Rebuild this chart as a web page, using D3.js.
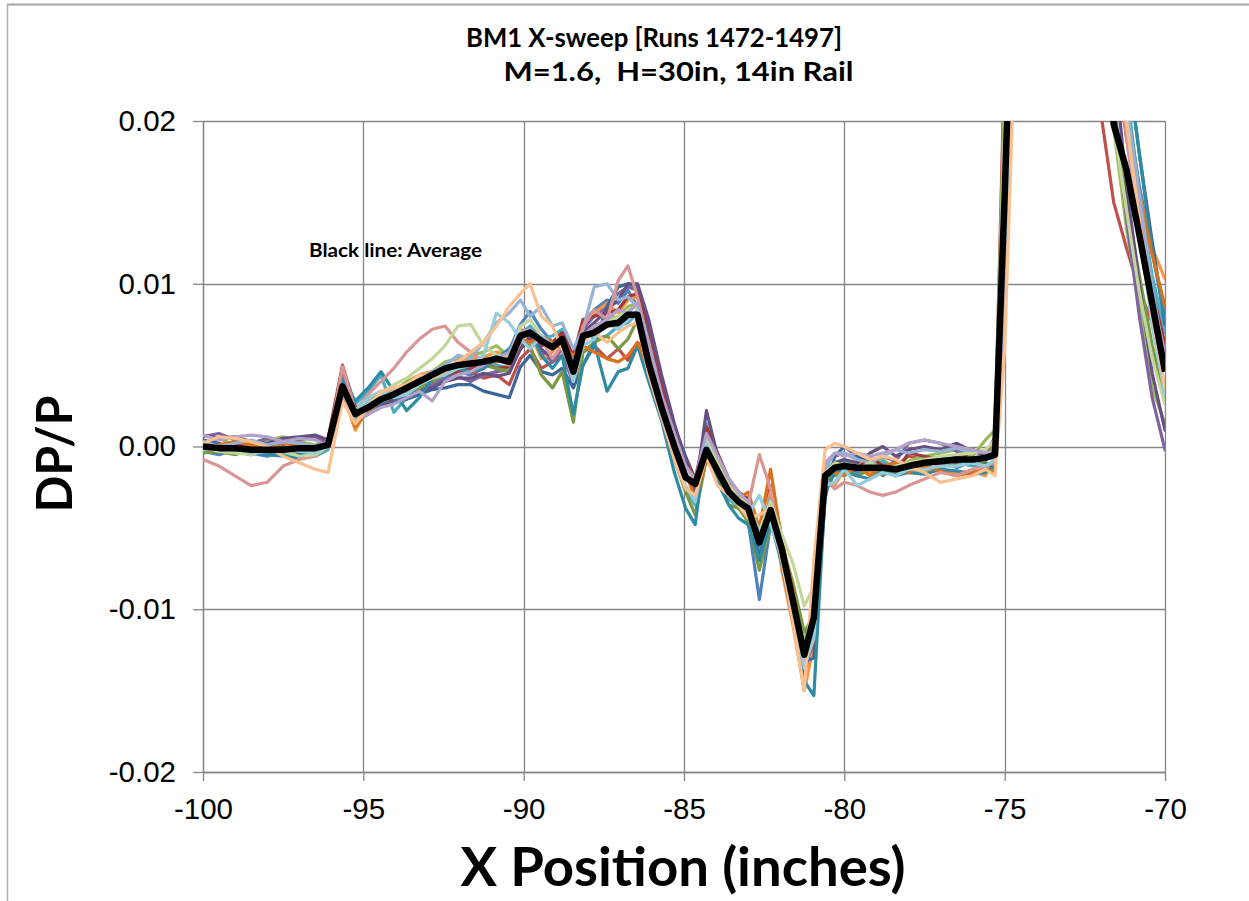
<!DOCTYPE html>
<html><head><meta charset="utf-8">
<script src="https://cdn.jsdelivr.net/npm/d3@7"></script>
<style>body{margin:0;background:#fff;} svg{display:block;}</style>
</head><body>
<svg id="chart" width="1249" height="901"></svg>
<script>
// ---------------- DATA (DP/P values stored in units of 0.001) ----------------
const xPositions = [-100,-99.5,-99,-98.5,-98,-97.5,-97,-96.5,-96.1,
 -95.65,-95.25,-94.85,-94.45,-94.05,
 -93.65,-93.25,-92.85,-92.45,-92.05,
 -91.65,-91.25,-90.85,-90.45,-90.1,
 -89.8,-89.45,-89.1,-88.8,-88.45,
 -88.15,-87.8,-87.4,-87.05,-86.75,
 -86.45,-86.1,-85.7,-85.3,-84.95,
 -84.65,-84.3,-83.95,-83.6,-83.3,
 -83.0,-82.65,-82.3,-81.95,-81.6,
 -81.25,-80.95,-80.6,-80.3,-80.0,
 -79.6,-79.2,-78.8,-78.4,-78.0,
 -77.5,-77.0,-76.5,-76.0,-75.6,
 -75.3,-75.0,-74.6,-74.0,-73.0,
 -72.0,-71.6,-71.2,-70.8,-70.4,
 -70.0];

const averageMilli = [0.0,-0.1,-0.1,-0.2,-0.2,-0.2,-0.1,-0.1,0.1,
 3.7,2.0,2.4,2.9,3.2, 3.6,4.0,4.4,4.8,5.0, 5.1,5.2,5.4,5.2,6.8,
 7.0,6.5,6.1,6.6,4.6, 6.8,7.0,7.5,7.6,8.1, 8.1,5.1,2.4,0.0,-1.9,
 -2.3,-0.2,-1.5,-2.8,-3.4, -3.8,-5.9,-3.9,-6.3,-9.5, -12.8,-10.5,-1.8,-1.3,-1.2,
 -1.3,-1.3,-1.3,-1.4,-1.2, -1.0,-0.9,-0.8,-0.8,-0.7, -0.5,15.4,40,50,55,
 35,19.8,17.0,13.0,8.8, 4.6];

const run1472 = [-0.3,-0.5,-0.2,-0.4,-0.6,-0.3,-0.5,-0.4,0.3,
 4.2,1.8,2.6,3.0,3.3, 3.2,3.6,4.0,4.2,4.6, 4.4,4.8,5.6,5.9,7.5,
 8.3,7.2,6.4,7.0,5.0, 7.6,8.4,9.0,8.8,9.6, 8.6,5.8,2.8,0.4,-1.4,
 -2.0,0.4,-1.2,-2.4,-3.6, -4.6,-9.4,-4.8,-6.8,-10.2, -13.6,-12.4,-2.5,-1.5,-1.0,
 -1.6,-1.2,-1.8,-1.1,-1.5, -1.2,-0.6,-1.3,-0.9,-1.0, -1.2,12,38,50,56,
 42,26,21,16,12, 8.2];
const run1473 = [0.3,0.0,0.2,-0.1,-0.3,0.0,-0.2,-0.3,0.5,
 5.0,2.4,2.2,3.1,2.9, 3.4,3.9,4.1,4.5,4.7, 4.6,4.2,4.4,3.8,5.4,
 6.0,4.8,5.2,5.6,4.0, 5.8,6.2,5.4,6.0,5.3, 6.4,5.6,2.6,0.6,-1.0,
 -2.0,0.8,-1.2,-2.6,-3.0, -3.5,-5.2,-2.4,-5.5,-9.6, -12.4,-11.0,-1.8,-1.0,-1.5,
 -0.9,-1.4,-1.0,-1.2,-0.6, -0.8,-1.2,-0.6,-0.3,-0.5, 0.6,24,42,48,40,
 20.5,15.0,12.2,9.6,7.6, 6.0];
const run1474 = [0.2,0.5,0.1,-0.2,0.4,0.6,0.3,0.1,0.0,
 3.6,2.2,2.8,3.2,3.4, 4.0,4.4,4.6,5.2,5.4, 5.6,5.8,6.2,5.5,7.0,
 7.2,6.8,5.9,6.8,5.0, 7.0,7.4,7.8,8.0,8.6, 8.8,6.0,3.0,0.4,-1.6,
 -2.4,-0.4,-1.8,-3.0,-3.8, -4.2,-6.6,-4.4,-6.0,-9.0, -12.0,-9.8,-1.6,-1.2,-0.8,
 -1.4,-1.2,-0.8,-1.4,-0.9, -0.6,-0.4,-0.2,-0.6,0.4, 1.0,22,44,52,46,
 30,19.6,13.4,8.6,3.6, 1.4];
const run1475 = [0.6,0.8,0.4,0.2,0.5,0.3,0.4,0.6,0.2,
 3.0,1.6,2.0,2.6,2.8, 3.0,3.5,3.8,4.1,4.3, 4.0,4.4,4.6,4.7,6.2,
 6.6,5.8,5.2,6.0,3.8, 7.2,8.0,8.6,9.4,9.8, 9.6,7.0,3.6,0.8,-1.0,
 -3.0,0.6,-1.0,-2.2,-3.4, -3.6,-6.2,-3.6,-6.6,-9.6, -13.8,-12.6,-1.0,-0.6,-0.4,
 -0.8,-1.0,-0.6,-0.9,0.2, 0.4,0.2,-0.3,-0.2,-0.6, -0.4,14,36,50,56,
 38,21.5,14.0,8.0,3.0, -0.2];
const run1476 = [-0.4,-0.2,0.0,-0.3,-0.1,-0.5,-0.4,-0.6,-0.2,
 4.8,2.6,3.4,4.4,2.1, 3.0,3.6,4.4,4.8,4.5, 4.9,5.6,5.0,4.8,6.9,
 7.4,6.6,6.8,7.2,5.4, 7.2,6.6,6.8,7.4,7.6, 8.2,5.4,2.4,-0.4,-2.6,
 -3.6,1.4,-1.6,-3.2,-3.8, -4.2,-6.6,-4.0,-6.8,-10.6, -13.8,-11.8,-1.4,-1.0,-0.8,
 -1.2,-1.6,-0.9,-1.5,-1.6, -1.4,-1.3,-1.0,-1.2,-1.3, -1.0,16,40,52,58,
 45,28,22,15.5,10.5, 7.0];
const run1477 = [-0.1,0.1,-0.2,0.0,-0.3,-0.2,0.1,-0.2,0.2,
 3.4,1.0,2.4,3.1,3.6, 3.8,4.4,4.6,4.8,5.2, 5.4,5.5,5.8,5.6,7.2,
 7.0,5.4,5.8,6.6,4.0, 7.6,8.2,8.8,8.2,9.0, 9.2,5.8,2.2,-0.6,-2.6,
 -3.0,-0.6,-1.8,-2.4,-3.2, -4.8,-5.2,-2.8,-7.6,-11.0, -15.0,-12.2,-1.6,-2.4,-1.4,
 -0.8,-1.6,-1.4,-1.8,-1.4, -1.6,-1.4,-1.6,-1.5,-1.8, -0.6,14,38,50,58,
 46,24,19,15.5,12.2, 10.3];
const run1478 = [0.4,0.2,-0.3,-0.5,-0.2,0.0,-0.4,-0.5,0.0,
 3.8,2.0,2.2,2.6,2.8, 2.9,3.2,3.5,3.6,3.8, 3.8,3.4,3.2,3.0,4.9,
 5.6,4.6,4.4,4.8,3.6, 5.0,6.2,8.6,9.8,10.0, 9.8,7.0,4.0,1.2,-0.6,
 -2.0,0.0,-1.4,-2.6,-3.4, -3.6,-6.8,-4.4,-6.0,-9.8, -13.2,-13.0,-3.2,-0.6,0.0,
 -0.6,-1.0,-1.4,-0.9,-1.2, -1.1,-0.8,-0.7,-0.9,-1.0, -1.4,10,34,48,56,
 44,30,24,18,12.6, 7.5];
const run1479 = [0.1,-0.3,0.2,0.0,-0.4,-0.2,-0.3,0.0,0.4,
 4.8,2.4,2.6,3.0,3.2, 3.4,3.8,4.2,4.4,4.6, 4.8,5.2,4.8,4.9,6.0,
 6.6,6.2,6.4,7.0,5.6, 7.8,8.0,8.2,8.4,9.2, 9.4,7.4,3.8,1.0,-0.8,
 -2.0,1.2,-0.4,-2.0,-2.8, -3.2,-5.4,-3.6,-6.0,-9.4, -13.6,-12.0,-2.2,-1.0,-1.6,
 -1.4,-0.6,-1.2,-1.6,-0.4, -0.6,-0.8,-1.0,-0.2,-0.4, -0.8,18,40,50,54,
 40,26,19,14,9.6, 6.3];
const run1480 = [-0.4,-0.3,-0.5,-0.2,-0.3,-0.1,0.0,-0.3,0.0,
 3.6,1.8,2.2,2.8,3.0, 3.3,3.6,4.0,4.4,4.8, 5.2,5.0,4.8,4.6,6.4,
 6.2,4.4,3.6,4.6,1.5, 5.8,6.4,6.8,6.0,6.6, 7.8,5.4,2.2,-0.8,-2.8,
 -4.2,-0.8,-2.0,-3.6,-3.8, -4.6,-7.6,-4.8,-6.0,-8.4, -11.4,-10.4,-2.0,-1.8,-1.6,
 -1.8,-1.4,-1.7,-1.6,-1.2, -1.2,-0.9,-1.2,-1.0,-0.9, 0.2,20,42,52,50,
 32,20.5,15,10.5,6.2, 3.0];
const run1481 = [0.7,0.5,0.6,0.3,0.2,0.5,0.6,0.7,0.4,
 3.2,1.5,2.0,2.4,2.9, 3.1,3.4,3.6,4.0,4.2, 4.2,4.5,4.3,4.5,6.0,
 6.8,6.0,5.4,6.2,4.2, 7.0,7.6,8.4,9.0,10.0, 10.0,7.8,4.4,1.4,-0.8,
 -2.8,2.2,-0.6,-2.4,-3.0, -3.4,-5.6,-3.2,-6.2,-9.6, -13.4,-11.6,-1.6,-1.0,-0.8,
 -1.0,-0.4,0.0,-0.6,-0.2, 0.0,-0.2,0.2,-0.3,-0.5, -0.4,12,36,50,56,
 40,24,16,10,4.5, 1.0];
const run1482 = [0.0,-0.2,-0.4,-0.3,-0.5,-0.6,-0.7,-0.4,0.2,
 4.0,2.8,3.6,4.6,3.4, 2.2,3.0,4.2,4.5,4.8, 4.6,4.8,5.4,6.0,6.8,
 7.2,5.6,4.8,5.6,2.0, 5.0,6.4,3.4,4.6,4.8, 6.2,4.0,1.6,-1.6,-3.8,
 -4.8,0.6,-2.2,-3.6,-4.4, -4.8,-7.0,-4.6,-7.2,-10.8, -14.4,-15.3,-2.8,-1.6,-1.4,
 -1.8,-2.0,-1.4,-1.8,-1.6, -1.7,-1.4,-1.5,-1.7,-1.6, -1.2,11,36,50,58,
 46,31,24,18,12.0, 7.8];
const run1483 = [-0.2,0.1,0.3,0.1,-0.1,0.2,0.0,-0.1,0.3,
 3.8,1.2,2.2,2.8,3.4, 3.6,4.2,4.4,4.6,4.9, 5.0,5.4,5.2,5.6,6.6,
 6.4,6.8,6.4,6.0,5.6, 6.2,5.8,5.4,5.2,5.6, 6.4,4.8,2.4,0.2,-1.6,
 -3.2,-0.8,-1.4,-2.8,-3.2, -2.8,-5.0,-1.4,-5.8,-8.8, -13.0,-11.4,-1.4,-1.6,-1.8,
 -1.2,-1.8,-1.2,-1.0,-1.6, -1.2,-1.5,-1.8,-1.6,-1.4, -1.6,13,38,50,58,
 44,28,21,15.5,11.8, 8.6];
const run1484 = [0.3,0.0,0.2,0.4,0.1,0.3,0.2,0.0,0.3,
 3.4,2.2,2.8,3.0,3.4, 3.8,4.2,4.6,5.0,5.6, 5.4,6.4,7.6,8.2,9.0,
 8.0,8.6,7.4,7.6,6.0, 7.2,9.8,10.0,9.0,9.2, 8.6,5.8,2.8,0.2,-1.6,
 -2.2,0.2,-1.4,-2.6,-3.0, -3.4,-5.4,-3.2,-6.0,-9.2, -12.2,-10.8,-1.4,-0.4,-0.4,
 -0.8,-1.0,-0.6,-0.2,-0.4, -0.2,-0.3,-0.1,-0.4,-0.3, -0.5,14,38,50,56,
 42,27,21,15.5,9.8, 5.2];
const run1485 = [-0.8,-1.2,-1.8,-2.4,-2.2,-1.2,-0.8,-0.6,0.1,
 4.9,2.2,3.2,4.0,4.8, 5.8,6.6,7.2,7.4,6.4, 5.8,5.2,5.4,5.0,6.4,
 7.2,6.6,5.4,6.2,4.4, 7.4,8.4,7.8,10.2,11.1, 9.2,6.2,2.6,0.2,-1.4,
 -2.2,0.2,-1.2,-2.4,-2.8, -3.6,-0.5,-2.6,-6.4,-10.0, -13.2,-11.4,-2.0,-2.6,-2.2,
 -2.4,-2.8,-3.0,-2.8,-2.4, -2.0,-1.6,-1.8,-1.4,-1.2, -1.0,14,38,50,56,
 42,26,19,13,8.6, 4.8];
const run1486 = [0.0,-0.3,-0.4,-0.5,-0.2,-0.3,-0.6,-0.5,0.0,
 3.4,2.0,2.6,3.2,3.8, 4.2,4.8,5.4,6.2,7.4, 7.5,6.2,5.6,5.6,7.4,
 7.8,6.8,6.0,6.6,4.8, 6.8,7.2,7.6,8.0,8.4, 8.6,5.4,2.6,0.2,-1.4,
 -2.4,0.6,-1.0,-2.4,-3.2, -3.4,-5.2,-3.4,-5.4,-7.2, -9.8,-8.6,-1.6,-1.0,-1.2,
 -1.4,-1.0,-1.4,-1.2,-1.0, -0.8,-0.6,-0.5,-0.4,-0.2, 0.4,20,42,50,46,
 28,19.8,14.5,9.5,5.4, 2.6];
const run1487 = [0.7,0.4,0.6,0.7,0.6,0.3,0.5,0.4,0.0,
 3.2,1.6,2.0,2.4,2.6, 3.0,3.4,2.8,4.0,4.4, 4.6,5.0,5.4,5.8,7.0,
 7.2,6.4,6.0,6.6,5.0, 6.8,7.4,7.8,8.4,8.2, 8.8,6.4,3.2,0.8,-1.2,
 -2.0,0.8,-0.6,-2.0,-2.8, -3.4,-5.4,-3.8,-6.4,-9.8, -13.2,-11.2,-1.0,-0.4,-0.6,
 -0.4,-0.6,-0.4,-0.2,0.2, 0.4,0.2,0.0,-0.2,-0.4, -0.6,8,32,48,56,
 44,28,20,14.5,9.0, 5.8];
const run1488 = [-0.2,0.0,-0.1,-0.4,-0.3,-0.2,-0.3,-0.4,0.1,
 3.6,2.2,3.0,3.4,3.0, 3.2,3.8,4.2,4.4,4.8, 5.0,5.6,8.2,7.6,6.6,
 6.0,6.8,6.2,6.4,4.0, 6.2,6.6,7.6,7.2,7.8, 8.4,5.2,2.0,-0.6,-2.4,
 -3.4,0.2,-1.6,-3.0,-3.6, -4.2,-3.0,-4.8,-6.8,-10.4, -13.6,-11.8,-2.4,-2.2,-1.4,
 -2.4,-2.0,-1.6,-1.8,-1.4, -1.4,-1.2,-1.2,-1.0,-1.2, -0.8,12,36,50,56,
 44,28,20,13.5,7.4, 3.2];
const run1489 = [0.2,0.6,0.5,0.3,0.0,-0.6,-1.0,-1.4,-1.6,
 2.8,1.4,2.4,3.4,3.6, 3.8,4.4,4.2,4.6,5.2, 5.8,6.4,7.4,8.6,9.4,
 10.0,8.0,7.4,6.0,4.6, 6.4,7.0,6.4,7.0,7.4, 7.6,4.4,1.8,-0.8,-2.6,
 -3.0,-0.6,-2.4,-3.0,-3.6, -4.4,-4.2,-3.8,-7.0,-10.8, -15.0,-7.0,-0.2,0.2,0.0,
 -0.4,-0.8,-0.6,-0.8,-1.2, -1.6,-2.2,-2.0,-1.8,-1.4, -1.8,6,30,46,56,
 44,28,20,14,8.0, 3.6];

const runSeries = [run1472,run1473,run1474,run1475,run1476,run1477,run1478,run1479,run1480,
  run1481,run1482,run1483,run1484,run1485,run1486,run1487,run1488,run1489];
const runColors = ["#4F81BD","#C0504D","#9BBB59","#8064A2","#4BACC6","#F79646",
  "#3C679B","#9E3B38","#7A9940","#654F83","#2F8BA3","#D8721E",
  "#95B3D7","#D99694","#C3D69B","#B3A2C7","#93CDDD","#FAC090"];

const xTickValues = [-100,-95,-90,-85,-80,-75,-70];
const yTickValues = [-0.02,-0.01,0,0.01,0.02];
const titleLine1 = "BM1 X-sweep [Runs 1472-1497]";
const titleLine2 = "M=1.6,  H=30in, 14in Rail";
const xAxisTitle = "X Position (inches)";
const yAxisTitle = "DP/P";
const noteText = "Black line: Average";

// ---------------- DRAWING ----------------
const svg = d3.select("#chart");
const L = 203, R = 1165, T = 121, B = 772;
const x = d3.scaleLinear().domain([-100,-70]).range([L,R]);
const y = d3.scaleLinear().domain([-0.02,0.02]).range([B,T]);
const gridColor = "#868686";

// outer chart frame (top and left edges visible)
svg.append("line").attr("x1",7).attr("x2",1249).attr("y1",4.5).attr("y2",4.5)
  .attr("stroke","#a6a6a6").attr("stroke-width",2);
svg.append("line").attr("x1",7.5).attr("x2",7.5).attr("y1",4).attr("y2",901)
  .attr("stroke","#b0b0b0").attr("stroke-width",1.5);

// gridlines
svg.append("g").selectAll("line").data(yTickValues).join("line")
  .attr("x1",L).attr("x2",R).attr("y1",d=>Math.round(y(d))+0.5).attr("y2",d=>Math.round(y(d))+0.5)
  .attr("stroke",gridColor).attr("stroke-width",1.3);
svg.append("g").selectAll("line").data(xTickValues).join("line")
  .attr("y1",T).attr("y2",B).attr("x1",d=>Math.round(x(d))+0.5).attr("x2",d=>Math.round(x(d))+0.5)
  .attr("stroke",gridColor).attr("stroke-width",1.3);

// axes
const xAxis = d3.axisBottom(x).tickValues(xTickValues).tickSizeInner(9).tickSizeOuter(0)
  .tickPadding(17).tickFormat(d=>String(d));
const yAxis = d3.axisLeft(y).tickValues(yTickValues).tickSizeInner(10).tickSizeOuter(0)
  .tickPadding(17).tickFormat(d=>d.toFixed(2));
const gx = svg.append("g").attr("transform",`translate(0,${B})`).call(xAxis);
const gy = svg.append("g").attr("transform",`translate(${L},0)`).call(yAxis);
[gx,gy].forEach(g=>{
  g.selectAll("path.domain").attr("stroke",gridColor).attr("stroke-width",1.3);
  g.selectAll(".tick line").attr("stroke",gridColor).attr("stroke-width",1.3);
  g.selectAll(".tick text").attr("fill","#000")
    .style("font-family","'Liberation Sans', Arial, sans-serif").style("font-size","29.5px");
});

// clip
svg.append("clipPath").attr("id","plotclip").append("rect")
  .attr("x",L).attr("y",T).attr("width",R-L).attr("height",B-T);
const plot = svg.append("g").attr("clip-path","url(#plotclip)");

const line = d3.line().x((d,i)=>x(xPositions[i])).y(d=>y(d/1000));
plot.selectAll("path.run").data(runSeries).join("path").attr("class","run")
  .attr("d",line).attr("fill","none")
  .attr("stroke",(d,i)=>runColors[i % runColors.length])
  .attr("stroke-width",3.2).attr("stroke-linejoin","round").attr("stroke-linecap","round");
plot.append("path").datum(averageMilli).attr("d",line).attr("fill","none")
  .attr("stroke","#000").attr("stroke-width",6.5).attr("stroke-linejoin","round");

// texts
const boldFont = "Lato, 'Open Sans', sans-serif";
function txt(s, xx, yy, size, len, rot){
  const t = svg.append("text").text(s).attr("x",xx).attr("y",yy)
    .attr("text-anchor","middle").attr("font-family",boldFont).attr("font-weight",700)
    .attr("font-size",size).attr("fill","#000").style("white-space","pre")
    .attr("xml:space","preserve");
  if (len) t.attr("textLength",len).attr("lengthAdjust","spacingAndGlyphs");
  if (rot) t.attr("transform",`rotate(${rot},${xx},${yy})`);
  return t;
}
txt(titleLine1, 654, 47, 27, 376);
txt(titleLine2, 678.5, 81, 27, 350);
txt(xAxisTitle, 683, 886, 53, 445);
txt(yAxisTitle, 72, 454, 49, 117, -90);
txt(noteText, 395.5, 257, 19.5, 173);
</script>
</body></html>
